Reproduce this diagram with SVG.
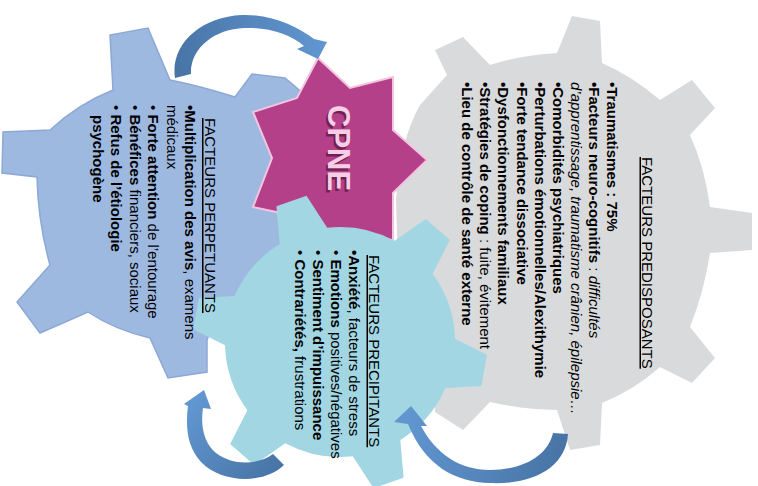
<svg xmlns="http://www.w3.org/2000/svg" width="758" height="486" viewBox="0 0 758 486">
<style>
.t{font-family:"Liberation Sans",Arial,sans-serif;font-size:15px;fill:#000}
.b{font-weight:bold}
.i{font-style:italic}
.h{text-decoration:underline}
.arrow{stroke:none}
</style>
<defs>
<linearGradient id="gTop" gradientUnits="userSpaceOnUse" x1="175" y1="70" x2="325" y2="50">
<stop offset="0" stop-color="#4874A6"/><stop offset="1" stop-color="#6196D0"/>
</linearGradient>
<linearGradient id="gBL" gradientUnits="userSpaceOnUse" x1="284" y1="465" x2="204" y2="392">
<stop offset="0" stop-color="#4874A6"/><stop offset="1" stop-color="#6196D0"/>
</linearGradient>
<linearGradient id="gBR" gradientUnits="userSpaceOnUse" x1="565" y1="435" x2="405" y2="410">
<stop offset="0" stop-color="#4874A6"/><stop offset="1" stop-color="#6196D0"/>
</linearGradient>
</defs>

<g id="gear-predisposants">
<path fill="#D9DADC" d="M557,53 L572,16 L600,21 L602,63 Q632,76 660,100 L692,80 L715,108 L690,135 Q705,168 710,207 L752,213 L752,250 L710,253 Q704,292 690,327 L715,358 L692,383 L660,367 Q634,390 602,403 L600,445 L570,450 L557,410 Q525,410 490,402 L463,430 L435,412 L433,380 L400,330 L396,200 Q400,140 420,105 L447,75 L435,50 L463,37 L490,65 Q522,55 557,53 Z"/>
</g>

<g id="gear-perpetuants">
<path fill="#9EB9E0" stroke="#8CA8D5" stroke-width="1.5" d="M113,90 L110,35 L148,28 L170,80 Q200,86 235,97 L252,74 L285,78 L305,95 L330,150 L320,232 L280,300 L215,320 L207,340 L207,372 L168,378 L150,338 Q115,330 88,312 L40,333 L17,302 L50,265 Q38,222 37,177 L2,173 L3,132 L50,130 Q78,104 113,90 Z"/>
</g>

<g id="star-cpne">
<path fill="#B5408A" stroke="#F2C4DF" stroke-width="2" stroke-linejoin="miter" d="M318,58 L350,88 L393,77 L393,130 L427,160 L393,193 L393,240 L350,235 L318,262 L290,215 L253,207 L272,158 L253,112 L297,98 Z"/>
<text class="b" transform="translate(325.5,107.5) rotate(90)" style="font-family:'Liberation Sans',Arial,sans-serif;font-size:31px;font-weight:bold;fill:#5A1740;fill-opacity:0.75">CPNE</text>
<text class="b" transform="translate(328,105) rotate(90)" style="font-family:'Liberation Sans',Arial,sans-serif;font-size:31px;font-weight:bold;fill:#F6CFE5">CPNE</text>
</g>

<g id="gear-precipitants">
<path fill="#A2D6E3" d="M279.7,244.1 L276.4,206.2 L306.5,195.8 L327.2,227.7 A115,115 0 0,1 394.7,240.8 L425.8,219 L449.9,239.9 L432.6,273.8 A115,115 0 0,1 455,338.8 L487,354.8 L481.4,386.1 L445.4,388 A115,115 0 0,1 400.3,439.9 L403.6,477.8 L373.5,488.2 L352.8,456.3 A115,115 0 0,1 285.3,443.2 L254.2,465 L230.1,444.1 L247.4,410.2 A115,115 0 0,1 225,345.2 L193,329.2 L199,297.9 L234.6,296 A115,115 0 0,1 279.7,244.1 Z"/>
</g>

<g id="connectors">
<path class="arrow" fill="url(#gTop)" d="M175,78 C170,45 200,17 242,15 C272,14 298,27 314,39 L327,42 L318,59 L297,49 L304,46 C290,34 268,27 244,28 C215,29 190,48 191,74 Z"/>
<path class="arrow" fill="url(#gBL)" d="M284,465 C265,484 222,484 201,462 C188,448 185,428 188,406 L184,404 L204,390 L211,409 L203,408 C200,428 205,444 216,453 C233,466 258,465 273,454 Z"/>
<path class="arrow" fill="url(#gBR)" d="M568,434 C566,466 535,485 490,483 C455,482 425,466 408,424 L394,422 L411,406 L427,426 L421,426 C436,454 460,470 490,470 C524,470 548,455 553,433 Z"/>
</g>

<g id="label-predisposants" class="t">
<text class="t h" transform="translate(642,157) rotate(90)">FACTEURS PREDISPOSANTS</text>
<text class="t b" transform="translate(607,82) rotate(90)">•Traumatismes : 75%</text>
<text class="t" transform="translate(589,82) rotate(90)"><tspan class="b">•Facteurs neuro-cognitifs</tspan> : <tspan class="i">difficultés</tspan></text>
<text class="t i" transform="translate(571,82) rotate(90)">d’apprentissage, traumatisme crânien, épilepsie…</text>
<text class="t b" transform="translate(553,82) rotate(90)">•Comorbidités psychiatriques</text>
<text class="t b" transform="translate(535,82) rotate(90)">•Perturbations émotionnelles/Alexithymie</text>
<text class="t b" transform="translate(516.5,82) rotate(90)">•Forte tendance dissociative</text>
<text class="t b" transform="translate(498,82) rotate(90)">•Dysfonctionnements familiaux</text>
<text class="t" transform="translate(480,82) rotate(90)"><tspan class="b">•Stratégies de coping</tspan> : fuite, évitement</text>
<text class="t b" transform="translate(462,82) rotate(90)">•Lieu de contrôle de santé externe</text>
</g>

<g id="label-perpetuants">
<text class="t h" transform="translate(204.5,118) rotate(90)">FACTEURS PERPETUANTS</text>
<text class="t" transform="translate(185,105) rotate(90)"><tspan class="b">•Multiplication des avis</tspan>, examens</text>
<text class="t" transform="translate(166.5,105) rotate(90)">médicaux</text>
<text class="t" transform="translate(148,105) rotate(90)">• <tspan class="b">Forte attention</tspan> de l’entourage</text>
<text class="t" transform="translate(129.5,105) rotate(90)">• <tspan class="b">Bénéfices</tspan> financiers, sociaux</text>
<text class="t" transform="translate(111,105) rotate(90)">• <tspan class="b">Refus de l’étiologie</tspan></text>
<text class="t b" transform="translate(92.5,115) rotate(90)">psychogène</text>
</g>

<g id="label-precipitants">
<text class="t h" transform="translate(369,255) rotate(90)">FACTEURS PRECIPITANTS</text>
<text class="t" transform="translate(348.5,250) rotate(90)"><tspan class="b">•Anxiété</tspan>, facteurs de stress</text>
<text class="t" transform="translate(330.5,250) rotate(90)">• <tspan class="b">Emotions</tspan> positives/négatives</text>
<text class="t" transform="translate(312.5,250) rotate(90)">• <tspan class="b">Sentiment d’impuissance</tspan></text>
<text class="t" transform="translate(294.5,250) rotate(90)">• <tspan class="b">Contrariétés,</tspan> frustrations</text>
</g>
</svg>
